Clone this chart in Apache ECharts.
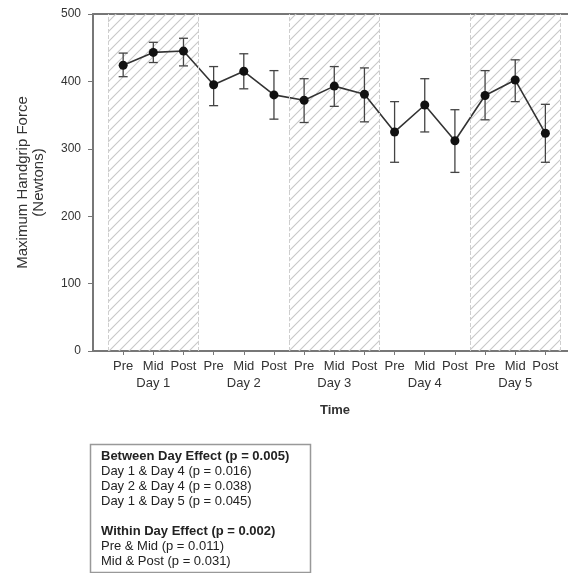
<!DOCTYPE html>
<html>
<head>
<meta charset="utf-8">
<script src="https://cdn.jsdelivr.net/npm/echarts@6/dist/echarts.min.js"></script>
<style>html,body{margin:0;padding:0;background:#fff}#c{width:568px;height:573px}</style>
</head>
<body>
<div id="c"></div>
<script>
// ---- data ----
var phases = ['Pre','Mid','Post','Pre','Mid','Post','Pre','Mid','Post','Pre','Mid','Post','Pre','Mid','Post'];
var days = ['Day 1','Day 2','Day 3','Day 4','Day 5'];
var means = [424, 443, 445, 395, 415, 380, 372, 393, 381, 325, 365, 312, 379, 402, 323];
var errLow = [407, 428, 423, 364, 389, 344, 339, 363, 340, 280, 325, 265, 343, 370, 280];
var errHigh = [442, 458, 464, 422, 441, 416, 404, 422, 420, 370, 404, 358, 416, 432, 366];
var yTicks = [0, 100, 200, 300, 400, 500];
var shadedDays = [0, 2, 4]; // Day 1, Day 3, Day 5
var boxLines = [
  {t:'Between Day Effect (p = 0.005)', b:true},
  {t:'Day 1 & Day 4 (p = 0.016)'},
  {t:'Day 2 & Day 4 (p = 0.038)'},
  {t:'Day 1 & Day 5 (p = 0.045)'},
  {t:''},
  {t:'Within Day Effect (p = 0.002)', b:true},
  {t:'Pre & Mid (p = 0.011)'},
  {t:'Mid & Post (p = 0.031)'}
];

// hatch pattern
var pc = document.createElement('canvas');
pc.width = 10; pc.height = 10;
var px = pc.getContext('2d');
px.strokeStyle = '#c8c8c8';
px.lineWidth = 1.1;
px.beginPath();
px.moveTo(-1, 11); px.lineTo(11, -1);
px.moveTo(-1, 1); px.lineTo(1, -1);
px.moveTo(9, 11); px.lineTo(11, 9);
px.stroke();

var idx = phases.map(function (_, i) { return i; });
var lineData = means.map(function (v, i) { return [i, v]; });
var errData = means.map(function (v, i) { return [i, errLow[i], errHigh[i]]; });
var areas = shadedDays.map(function (d) {
  return [{xAxis: d * 3 - 0.5}, {xAxis: d * 3 + 2.5}];
});
var edges = [];
for (var d = 0; d <= days.length; d++) edges.push({xAxis: d * 3 - 0.5});

var FONT = '"Liberation Sans", Arial, sans-serif';
var textColor = '#333';

var graphics = [];
graphics.push({type:'rect', shape:{x:90.5, y:444.5, width:220, height:128}, style:{fill:'#fff', stroke:'#999', lineWidth:1.5}});
boxLines.forEach(function (l, i) {
  graphics.push({type:'text', x:101, y:456 + i * 15, style:{text:l.t, font:(l.b ? 'bold ' : '') + '13px ' + FONT, fill:'#222', verticalAlign:'middle'}});
});
graphics.push({type:'text', x:335, y:410, style:{text:'Time', font:'bold 13px ' + FONT, fill:'#333', align:'center', verticalAlign:'middle'}});

var chart = echarts.init(document.getElementById('c'), null, {renderer:'canvas'});
chart.setOption({
  animation:false,
  grid:{left:93, right:0, top:14, bottom:222},
  xAxis:[{
    type:'value', min:-1, max:14.75, interval:1,
    splitLine:{show:false},
    axisLine:{onZero:false, lineStyle:{color:'#777', width:2}},
    axisTick:{show:true, length:4, lineStyle:{color:'#777'}, customValues:idx},
    axisLabel:{
      customValues:idx, margin:7, color:textColor, fontFamily:FONT, fontSize:13, lineHeight:17,
      formatter:function (v) {
        var i = Math.round(v);
        if (i % 3 === 1) return phases[i] + '\n' + days[(i - 1) / 3];
        return phases[i] + '\n ';
      }
    }
  },{
    type:'value', position:'top', min:-1, max:14.75,
    splitLine:{show:false}, axisTick:{show:false}, axisLabel:{show:false},
    axisLine:{onZero:false, lineStyle:{color:'#777', width:2}}
  }],
  yAxis:{
    type:'value', min:0, max:500, interval:100,
    splitLine:{show:false},
    axisLine:{show:true, onZero:false, lineStyle:{color:'#777', width:2}},
    axisTick:{show:true, length:5, lineStyle:{color:'#777'}},
    axisLabel:{color:textColor, fontFamily:FONT, fontSize:12, margin:12,
      customValues:yTicks},
    name:'Maximum Handgrip Force\n(Newtons)',
    nameLocation:'middle', nameRotate:90, nameGap:46,
    nameTextStyle:{color:textColor, fontFamily:FONT, fontSize:15, lineHeight:16}
  },
  graphic:graphics,
  series:[{
    type:'line', data:[], silent:true,
    markArea:{silent:true, itemStyle:{color:{image:pc, repeat:'repeat'}}, data:areas},
    markLine:{silent:true, symbol:'none', label:{show:false},
      lineStyle:{color:'#cfcfcf', type:'dashed', width:1}, data:edges}
  },{
    type:'custom', data:errData, z:3,
    encode:{x:0, y:[1,2]},
    renderItem:function (params, api) {
      var x = api.value(0);
      var lo = api.coord([x, api.value(1)]);
      var hi = api.coord([x, api.value(2)]);
      var w = 4.5;
      var st = {stroke:'#444', lineWidth:1.3, fill:null};
      return {type:'group', children:[
        {type:'line', shape:{x1:lo[0], y1:lo[1], x2:hi[0], y2:hi[1]}, style:st},
        {type:'line', shape:{x1:lo[0]-w, y1:lo[1], x2:lo[0]+w, y2:lo[1]}, style:st},
        {type:'line', shape:{x1:hi[0]-w, y1:hi[1], x2:hi[0]+w, y2:hi[1]}, style:st}
      ]};
    }
  },{
    type:'line', data:lineData, z:4,
    symbol:'circle', symbolSize:9,
    lineStyle:{color:'#333', width:1.6},
    itemStyle:{color:'#111'}
  }]
});
</script>
</body>
</html>
